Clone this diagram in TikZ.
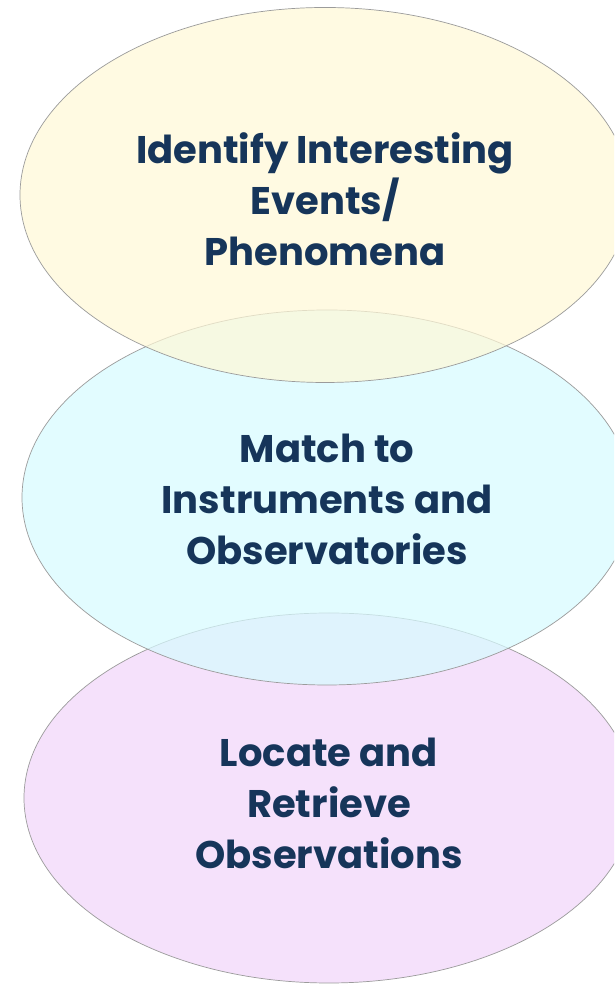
\documentclass[tikz,border=0pt]{standalone}
\usepackage{fontspec}
\setmainfont{Poppins}
\definecolor{txt}{RGB}{22,53,90}
\definecolor{yel}{RGB}{255,248,214}
\definecolor{cya}{RGB}{215,251,255}
\definecolor{pnk}{RGB}{245,225,251}
\definecolor{edge}{RGB}{155,155,155}
\tikzset{
  ell/.style={draw=edge, line width=0.7pt},
  lbl/.style={text=txt, align=center, font=\fontsize{38.5}{51}\selectfont\bfseries, inner sep=0pt}
}
\begin{document}
\begin{tikzpicture}[x=1pt,y=1pt]
\useasboundingbox (0,0) rectangle (614,985);
\clip (0,0) rectangle (614,985);
\fill[white] (0,0) rectangle (614,985);
% bottom ellipse
\path[ell, fill=pnk] (329,187) ellipse [x radius=305, y radius=185];
% middle ellipse
\path[ell, fill=cya, fill opacity=0.7] (327,487.5) ellipse [x radius=305, y radius=187.5];
% top ellipse
\path[ell, fill=yel, fill opacity=0.7] (325,790) ellipse [x radius=305, y radius=187.5];
\node[lbl] (t1) at (325,786) {Identify Interesting\\Events/\\Phenomena};
\node[lbl] (t2) at (327,486) {Match to\\Instruments and\\Observatories};
\node[lbl] (t3) at (329,182) {Locate and\\Retrieve\\Observations};
\end{tikzpicture}
\end{document}
